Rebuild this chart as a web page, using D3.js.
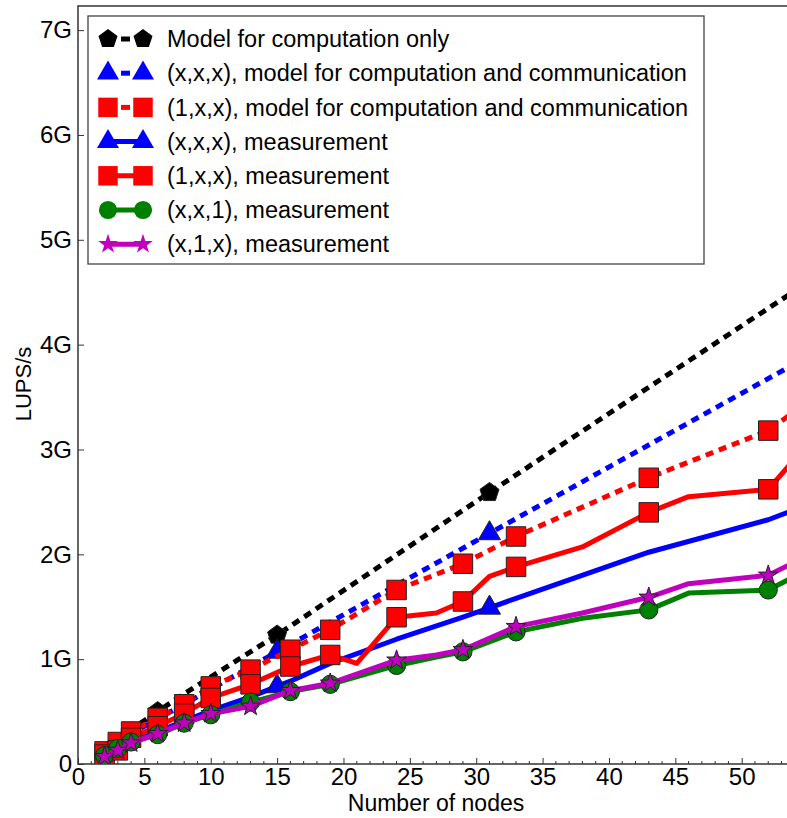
<!DOCTYPE html>
<html>
<head>
<meta charset="utf-8">
<script src="https://cdn.jsdelivr.net/npm/d3@7"></script>
<style>
  body { margin: 0; background: #fff; }
  svg { display: block; font-family: "Liberation Sans", Arial, sans-serif; }
</style>
</head>
<body>
<svg id="chart"></svg>
<script>
// values in GLUPS/s
const modelX = [2, 3, 4, 6, 8, 15, 31, 64];
const modelY = [0.17, 0.25, 0.33, 0.50, 0.67, 1.23, 2.59, 5.35];
const modelMarks = [6, 15, 31, 64];

const xxxModelX = [2, 4, 6, 8, 15, 31, 64];
const xxxModelY = [0.15, 0.29, 0.43, 0.57, 1.07, 2.20, 4.52];
const xxxModelMarks = [15, 31, 64];

const oneModelX = [2, 3, 4, 6, 8, 10, 13, 16, 19, 24, 29, 33, 43, 52, 56];
const oneModelY = [0.12, 0.21, 0.31, 0.44, 0.57, 0.74, 0.90, 1.09, 1.28, 1.66, 1.91, 2.17, 2.73, 3.18, 3.55];
const oneModelMarks = [2, 3, 4, 6, 8, 10, 13, 16, 19, 24, 29, 33, 43, 52];

const xxxMeasX = [2, 3, 4, 6, 8, 10, 13, 15, 16, 19, 24, 29, 31, 33, 43, 52, 56];
const xxxMeasY = [0.11, 0.16, 0.21, 0.31, 0.41, 0.51, 0.64, 0.74, 0.79, 0.96, 1.19, 1.40, 1.49, 1.58, 2.02, 2.33, 2.52];
const xxxMeasMarks = [15, 31];

const oneMeasX = [2, 3, 4, 6, 8, 10, 13, 16, 19, 21, 24, 27, 29, 31, 33, 38, 43, 46, 52, 56];
const oneMeasY = [0.09, 0.13, 0.25, 0.36, 0.48, 0.63, 0.76, 0.93, 1.04, 0.96, 1.40, 1.44, 1.55, 1.79, 1.88, 2.07, 2.40, 2.55, 2.62, 3.20];
const oneMeasMarks = [2, 3, 4, 6, 8, 10, 13, 16, 19, 24, 29, 33, 43, 52];

const xx1MeasX = [2, 3, 4, 6, 8, 10, 13, 16, 19, 24, 27, 29, 33, 38, 43, 46, 52, 56];
const xx1MeasY = [0.08, 0.15, 0.21, 0.28, 0.39, 0.47, 0.59, 0.69, 0.76, 0.94, 1.02, 1.07, 1.26, 1.39, 1.47, 1.63, 1.66, 1.92];
const xx1MeasMarks = [2, 3, 4, 6, 8, 10, 13, 16, 19, 24, 29, 33, 43, 52];

const x1xMeasX = [2, 3, 4, 6, 8, 10, 13, 16, 19, 24, 27, 29, 33, 38, 43, 46, 52, 56];
const x1xMeasY = [0.07, 0.13, 0.20, 0.29, 0.39, 0.48, 0.55, 0.70, 0.77, 0.99, 1.04, 1.09, 1.31, 1.44, 1.59, 1.72, 1.80, 2.05];
const x1xMeasMarks = [2, 3, 4, 6, 8, 10, 13, 16, 19, 24, 29, 33, 43, 52];

const xTicks = [0, 5, 10, 15, 20, 25, 30, 35, 40, 45, 50];
const yTicks = [0, 1, 2, 3, 4, 5, 6, 7];
const yTickLabels = ["0", "1G", "2G", "3G", "4G", "5G", "6G", "7G"];

const width = 787, height = 818;
const plotLeft = 78, plotBottom = 764, plotTop = 6;

const pentagon = {
    draw(ctx, size) {
        const r = Math.sqrt(size) * 0.62;
        for (let k = 0; k < 5; k++) {
            const a = -Math.PI / 2 + k * 2 * Math.PI / 5;
            k ? ctx.lineTo(r * Math.cos(a), r * Math.sin(a)) : ctx.moveTo(r * Math.cos(a), r * Math.sin(a));
        }
        ctx.closePath();
    }
};

const series = [
    { label: "Model for computation only", xs: modelX, ys: modelY, marks: modelMarks, color: "#000000", dashed: true, symbol: pentagon, size: 260 },
    { label: "(x,x,x), model for computation and communication", xs: xxxModelX, ys: xxxModelY, marks: xxxModelMarks, color: "#0000ff", dashed: true, symbol: d3.symbolTriangle, size: 210 },
    { label: "(1,x,x), model for computation and communication", xs: oneModelX, ys: oneModelY, marks: oneModelMarks, color: "#ff0000", dashed: true, symbol: d3.symbolSquare, size: 380 },
    { label: "(x,x,x), measurement", xs: xxxMeasX, ys: xxxMeasY, marks: xxxMeasMarks, color: "#0000ff", dashed: false, symbol: d3.symbolTriangle, size: 210 },
    { label: "(1,x,x), measurement", xs: oneMeasX, ys: oneMeasY, marks: oneMeasMarks, color: "#ff0000", dashed: false, symbol: d3.symbolSquare, size: 380 },
    { label: "(x,x,1), measurement", xs: xx1MeasX, ys: xx1MeasY, marks: xx1MeasMarks, color: "#008000", dashed: false, symbol: d3.symbolCircle, size: 260 },
    { label: "(x,1,x), measurement", xs: x1xMeasX, ys: x1xMeasY, marks: x1xMeasMarks, color: "#bf00bf", dashed: false, symbol: d3.symbolStar, size: 120 }
];

const svg = d3.select("#chart").attr("width", width).attr("height", height);

const x = d3.scaleLinear().domain([0, 60]).range([plotLeft, plotLeft + 60 * 13.274]);
const y = d3.scaleLinear().domain([0, 7.23]).range([plotBottom, plotTop]);

svg.append("defs").append("clipPath").attr("id", "plot")
    .append("rect").attr("x", plotLeft).attr("y", plotTop).attr("width", width - plotLeft).attr("height", plotBottom - plotTop);

// axes
const xAxis = svg.append("g")
    .attr("transform", `translate(0,${plotBottom})`)
    .call(d3.axisBottom(x).tickValues(xTicks).tickSizeInner(-6).tickSizeOuter(0).tickPadding(4));
xAxis.select(".domain").remove();
xAxis.selectAll("text").attr("font-size", 24).attr("fill", "#000").attr("font-family", "Liberation Sans, Arial, sans-serif");
xAxis.selectAll("line").attr("stroke", "#333");

const minor = svg.append("g");
minor.selectAll("line")
    .data(d3.range(0, 61).filter(v => v % 5 !== 0))
    .join("line")
    .attr("x1", d => x(d)).attr("x2", d => x(d))
    .attr("y1", plotBottom).attr("y2", plotBottom - 3)
    .attr("stroke", "#333");

const yAxis = svg.append("g")
    .attr("transform", `translate(${plotLeft},0)`)
    .call(d3.axisLeft(y).tickValues(yTicks).tickFormat((d, i) => yTickLabels[i]).tickSizeInner(-6).tickSizeOuter(0).tickPadding(6));
yAxis.select(".domain").remove();
yAxis.selectAll("text").attr("font-size", 24).attr("fill", "#000").attr("font-family", "Liberation Sans, Arial, sans-serif");
yAxis.selectAll("line").attr("stroke", "#333");

// frame
svg.append("path")
    .attr("d", `M${width + 5},${plotBottom}H${plotLeft}V${plotTop}H${width + 5}`)
    .attr("fill", "none").attr("stroke", "#333").attr("stroke-width", 1.5);

svg.append("text")
    .attr("x", 436).attr("y", 811)
    .attr("text-anchor", "middle").attr("font-size", 23)
    .text("Number of nodes");

svg.append("text")
    .attr("transform", "translate(31,384) rotate(-90)")
    .attr("text-anchor", "middle").attr("font-size", 22)
    .text("LUPS/s");

// lines and markers
const plot = svg.append("g").attr("clip-path", "url(#plot)");
const line = d3.line().x(d => x(d[0])).y(d => y(d[1]));

series.forEach(s => {
    const pts = s.xs.map((v, i) => [v, s.ys[i]]);
    plot.append("path")
        .attr("d", line(pts))
        .attr("fill", "none")
        .attr("stroke", s.color)
        .attr("stroke-width", 5)
        .attr("stroke-linejoin", "round")
        .attr("stroke-dasharray", s.dashed ? "8,6" : null);
    plot.selectAll(null)
        .data(pts.filter(p => s.marks.includes(p[0])))
        .join("path")
        .attr("transform", d => `translate(${x(d[0])},${y(d[1])})`)
        .attr("d", d3.symbol(s.symbol, s.size))
        .attr("fill", s.color)
        .attr("stroke", "#222")
        .attr("stroke-width", 1);
});

// legend
const legend = svg.append("g");
legend.append("rect")
    .attr("x", 88).attr("y", 16).attr("width", 616).attr("height", 248)
    .attr("fill", "#fff").attr("stroke", "#444").attr("stroke-width", 1.3);

series.forEach((s, i) => {
    const cy = 39 + i * 34.2;
    const g = legend.append("g");
    if (s.dashed) {
        g.append("line").attr("x1", 121).attr("x2", 130).attr("y1", cy).attr("y2", cy)
            .attr("stroke", s.color).attr("stroke-width", 5);
    } else {
        g.append("line").attr("x1", 108).attr("x2", 143).attr("y1", cy).attr("y2", cy)
            .attr("stroke", s.color).attr("stroke-width", 5);
    }
    [108, 143].forEach(cx => {
        g.append("path")
            .attr("transform", `translate(${cx},${cy})`)
            .attr("d", d3.symbol(s.symbol, s.size))
            .attr("fill", s.color);
    });
    g.append("text")
        .attr("x", 167).attr("y", cy)
        .attr("dy", "0.35em")
        .attr("font-size", 23.5)
        .text(s.label);
});
</script>
</body>
</html>
